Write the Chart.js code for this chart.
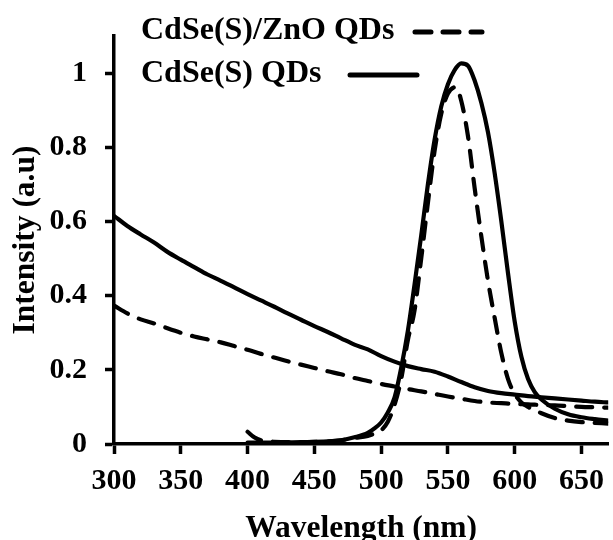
<!DOCTYPE html>
<html>
<head>
<meta charset="utf-8">
<script src="https://cdn.jsdelivr.net/npm/chart.js@4.4.1/dist/chart.umd.min.js"></script>
<style>
  html, body { margin: 0; padding: 0; background: #fff; }
  #wrap { width: 613px; height: 540px; }
</style>
</head>
<body>
<div id="wrap"><canvas id="spectra"></canvas></div>
<script>
// absorption spectra (same wavelength grid for both samples)
const absWl = [300,310,320,330,340,350,360,370,380,390,400,410,420,430,440,450,460,470,480,490,
               500,510,520,530,540,550,560,570,580,590,600,610,620,630,640,650,660,670];
const absCdSeS = [0.615,0.588,0.565,0.543,0.518,0.497,0.477,0.457,0.44,0.422,0.404,0.387,0.37,0.352,0.335,0.318,0.302,0.285,0.268,0.255,
                  0.237,0.222,0.21,0.202,0.195,0.182,0.167,0.153,0.143,0.137,0.133,0.129,0.126,0.123,0.12,0.117,0.114,0.112];
const absCdSeSZnO = [0.373,0.352,0.336,0.325,0.312,0.3,0.29,0.282,0.274,0.264,0.254,0.243,0.233,0.223,0.214,0.205,0.196,0.188,0.178,0.17,
                     0.162,0.155,0.148,0.142,0.135,0.128,0.122,0.116,0.112,0.11,0.108,0.107,0.105,0.104,0.102,0.1,0.099,0.098];

// photoluminescence
const plWlCdSeS = [400,420,440,460,470,480,490,495,500,505,510,515,520,525,530,535,540,545,550,555,
                   560,565,570,575,580,585,590,595,600,605,610,615,620,630,640,650,660,670];
const plCdSeS = [0.004,0.004,0.005,0.007,0.01,0.018,0.03,0.042,0.058,0.085,0.125,0.205,0.305,0.43,0.562,0.7,0.82,0.91,0.97,1.008,
                 1.026,1.02,0.98,0.92,0.84,0.73,0.6,0.46,0.33,0.235,0.175,0.14,0.12,0.095,0.08,0.072,0.067,0.063];
const plWlZnO = [400,405,410,420,440,460,470,480,490,495,500,505,510,515,520,525,530,535,540,545,
                 550,556,560,565,570,575,580,585,590,595,600,605,610,620,630,640,650,660,670];
const plZnO = [0.033,0.018,0.01,0.006,0.005,0.007,0.01,0.016,0.022,0.028,0.037,0.06,0.105,0.175,0.28,0.36,0.5,0.65,0.79,0.89,
               0.945,0.962,0.925,0.83,0.69,0.56,0.44,0.34,0.245,0.175,0.135,0.112,0.1,0.083,0.07,0.063,0.059,0.057,0.055];

const xTicks = [300,350,400,450,500,550,600,650];
const yTicks = [0,0.2,0.4,0.6,0.8,1];
const legendNames = ['CdSe(S)/ZnO QDs', 'CdSe(S) QDs'];

const FONT = '"Liberation Serif", "Times New Roman", serif';
const DASH = [16, 12];

function pts(xs, ys) {
    return xs.map((x, i) => ({ x: x, y: ys[i] }));
}
function line(label, xs, ys, dashed) {
    return {
        label: label,
        data: pts(xs, ys),
        borderColor: '#000',
        borderWidth: 4.2,
        borderDash: dashed ? DASH : [],
        borderCapStyle: 'round',
        pointRadius: 0,
        cubicInterpolationMode: 'monotone',
        fill: false
    };
}

// legend: text first, line sample after it
const legendPlugin = {
    id: 'textLegend',
    afterDraw(chart) {
        const ctx = chart.ctx;
        ctx.save();
        ctx.font = 'bold 32px ' + FONT;
        ctx.fillStyle = '#000';
        ctx.textBaseline = 'middle';
        ctx.textAlign = 'left';
        const rows = [
            { text: legendNames[0], y: 31, x0: 415, x1: 482, dash: DASH },
            { text: legendNames[1], y: 74, x0: 350, x1: 417, dash: [] }
        ];
        rows.forEach(r => {
            ctx.fillText(r.text, 141, r.y);
            ctx.beginPath();
            ctx.setLineDash(r.dash);
            ctx.lineCap = 'round';
            ctx.lineWidth = 5;
            ctx.strokeStyle = '#000';
            ctx.moveTo(r.x0, r.y + 1);
            ctx.lineTo(r.x1, r.y + 1);
            ctx.stroke();
        });
        ctx.restore();
    }
};

new Chart(document.getElementById('spectra').getContext('2d'), {
    type: 'line',
    data: {
        datasets: [
            line('CdSe(S)/ZnO QDs abs', absWl, absCdSeSZnO, true),
            line('CdSe(S) QDs abs', absWl, absCdSeS, false),
            line('CdSe(S)/ZnO QDs PL', plWlZnO, plZnO, true),
            line('CdSe(S) QDs PL', plWlCdSeS, plCdSeS, false)
        ]
    },
    options: {
        responsive: true,
        maintainAspectRatio: false,
        animation: false,
        layout: { padding: { top: 29, right: 0, left: 0, bottom: 0 } },
        plugins: {
            legend: { display: false },
            tooltip: { enabled: false }
        },
        scales: {
            x: {
                type: 'linear',
                min: 300,
                max: 670,
                afterBuildTicks: s => { s.ticks = xTicks.map(v => ({ value: v })); },
                afterFit: s => { s.height = 96; },
                border: { color: '#000', width: 3.5 },
                grid: { drawOnChartArea: false, tickLength: 10, tickWidth: 3.5, tickColor: '#000' },
                ticks: {
                    color: '#000',
                    padding: 9,
                    maxRotation: 0,
                    font: { family: FONT, size: 30, weight: 'bold' }
                },
                title: {
                    display: true,
                    text: 'Wavelength (nm)',
                    color: '#000',
                    padding: 0,
                    font: { family: FONT, size: 31.5, weight: 'bold', lineHeight: 0.7 }
                }
            },
            y: {
                min: 0,
                max: 1.1,
                afterBuildTicks: s => { s.ticks = yTicks.map(v => ({ value: v })); },
                afterFit: s => { s.width = 114; },
                border: { color: '#000', width: 3.5 },
                grid: { drawOnChartArea: false, tickLength: 9, tickWidth: 3.5, tickColor: '#000' },
                ticks: {
                    color: '#000',
                    padding: 18,
                    font: { family: FONT, size: 30, weight: 'bold' },
                    callback: v => String(+(+v).toFixed(1))
                },
                title: {
                    display: true,
                    text: 'Intensity (a.u)',
                    color: '#000',
                    padding: { top: 7, bottom: 0 },
                    font: { family: FONT, size: 31.5, weight: 'bold', lineHeight: 1.2 }
                }
            }
        }
    },
    plugins: [legendPlugin]
});
</script>
</body>
</html>
